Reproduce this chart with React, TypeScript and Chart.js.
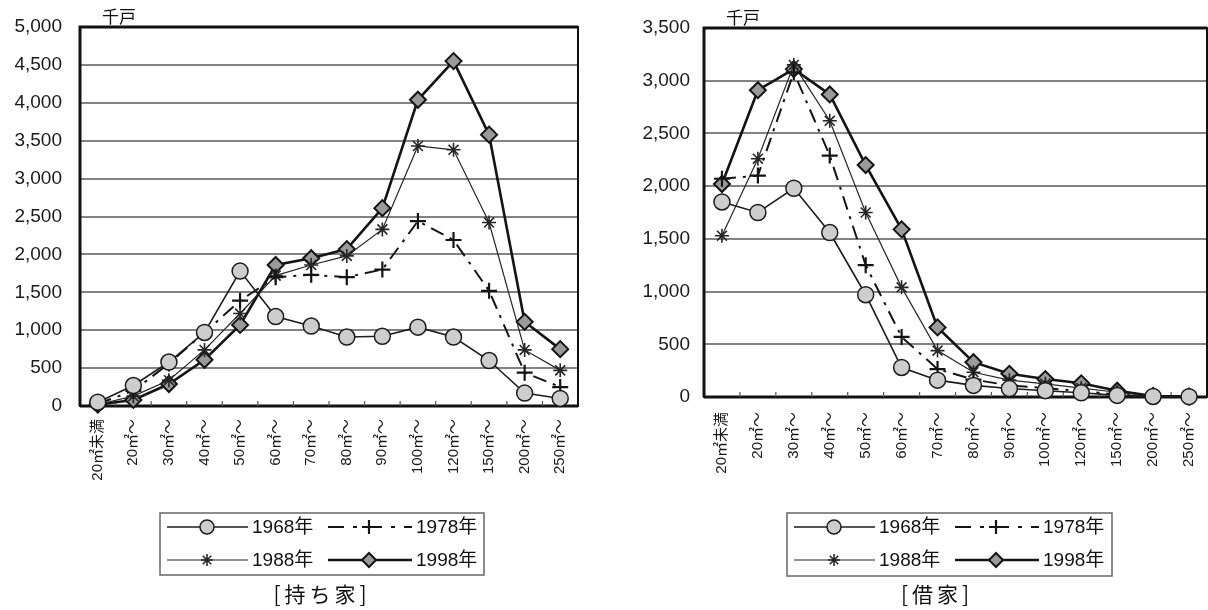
import { useEffect, useRef } from "react";
import { Chart, registerables } from "chart.js";
import { drawPoint } from "chart.js/helpers";

Chart.register(...registerables);

// Floor-area classes shown along the x axis
const sizeCategories = [
  "20㎡未満", "20㎡～", "30㎡～", "40㎡～", "50㎡～", "60㎡～", "70㎡～",
  "80㎡～", "90㎡～", "100㎡～", "120㎡～", "150㎡～", "200㎡～", "250㎡～",
];
const seriesYears = ["1968年", "1978年", "1988年", "1998年"];

// 持ち家 — owner-occupied dwellings, thousand households
const owned1968 = [50, 270, 580, 970, 1780, 1180, 1055, 910, 920, 1040, 910, 600, 170, 100];
const owned1978 = [30, 200, 560, 970, 1390, 1700, 1730, 1700, 1800, 2440, 2190, 1520, 440, 250];
const owned1988 = [20, 130, 340, 740, 1220, 1720, 1860, 1980, 2330, 3430, 3380, 2420, 740, 470];
const owned1998 = [20, 80, 290, 610, 1070, 1860, 1950, 2070, 2610, 4040, 4550, 3580, 1110, 750];

// 借家 — rented dwellings, thousand households
const rented1968 = [1850, 1750, 1980, 1560, 970, 280, 160, 110, 80, 60, 40, 15, 5, 3];
const rented1978 = [2070, 2100, 3080, 2290, 1250, 570, 265, 165, 110, 85, 55, 25, 5, 3];
const rented1988 = [1530, 2260, 3150, 2620, 1750, 1040, 440, 235, 160, 125, 85, 45, 6, 3];
const rented1998 = [2020, 2910, 3110, 2870, 2200, 1590, 660, 330, 220, 170, 130, 60, 10, 5];

const ownedMax = 5000;
const rentedMax = 3500;
const tickStep = 500;

const LATIN = '"Liberation Sans", "Noto Sans CJK JP", sans-serif';
const CJK = '"Noto Sans CJK JP", "Liberation Sans", sans-serif';

type Look = {
  lineColor: string;
  lineWidth: number;
  dash: number[];
  pointStyle: string;
  radius: number;
  fill: string;
  stroke: string;
  pointWidth: number;
};

const looks: Look[] = [
  { lineColor: "#1c1c1c", lineWidth: 1.6, dash: [], pointStyle: "circle", radius: 8, fill: "#cdcdcd", stroke: "#1c1c1c", pointWidth: 1.5 },
  { lineColor: "#141414", lineWidth: 2, dash: [14, 7, 3, 7], pointStyle: "cross", radius: 8, fill: "#141414", stroke: "#141414", pointWidth: 2.2 },
  { lineColor: "#262626", lineWidth: 1.2, dash: [], pointStyle: "star", radius: 7, fill: "#262626", stroke: "#262626", pointWidth: 1.6 },
  { lineColor: "#141414", lineWidth: 2.6, dash: [], pointStyle: "rectRot", radius: 8, fill: "#9a9a9a", stroke: "#141414", pointWidth: 2 },
];

type Panel = {
  caption: string;
  series: number[][];
  max: number;
  canvasLeft: number;
  canvasWidth: number;
  plotLeft: number;
  plotRight: number;
  plotTop: number;
  plotBottom: number;
  yPad: number;
  xPad: number;
  box: { x: number; y: number; w: number; h: number };
  captionX: number;
};

const CANVAS_H = 610;

const panels: Panel[] = [
  {
    caption: "[持ち家]",
    series: [owned1968, owned1978, owned1988, owned1998],
    max: ownedMax,
    canvasLeft: 0,
    canvasWidth: 600,
    plotLeft: 80,
    plotRight: 578,
    plotTop: 27,
    plotBottom: 406,
    yPad: 18,
    xPad: 13,
    box: { x: 160, y: 513, w: 324, h: 62 },
    captionX: 320,
  },
  {
    caption: "[借家]",
    series: [rented1968, rented1978, rented1988, rented1998],
    max: rentedMax,
    canvasLeft: 620,
    canvasWidth: 588,
    plotLeft: 84,
    plotRight: 587,
    plotTop: 28,
    plotBottom: 397,
    yPad: 14,
    xPad: 15,
    box: { x: 167, y: 513, w: 325, h: 63 },
    captionX: 315,
  },
];

function setLook(ctx: CanvasRenderingContext2D, look: Look) {
  ctx.fillStyle = look.fill;
  ctx.strokeStyle = look.stroke;
  ctx.lineWidth = look.pointWidth;
  ctx.setLineDash([]);
}

function framePlugin(panel: Panel) {
  return {
    id: "frameAndLegend",
    beforeDatasetsDraw(chart: any) {
      const { ctx, chartArea: a } = chart;
      const xs = chart.scales.x;
      ctx.save();
      // plot frame
      ctx.strokeStyle = "#111";
      ctx.lineWidth = 2;
      ctx.strokeRect(a.left, a.top, a.right - a.left, a.bottom - a.top);
      ctx.lineWidth = 3;
      ctx.beginPath();
      ctx.moveTo(a.left, a.bottom);
      ctx.lineTo(a.left, a.top);
      ctx.lineTo(a.right, a.top);
      ctx.moveTo(a.left, a.bottom);
      ctx.lineTo(a.right, a.bottom);
      ctx.stroke();
      // short inward tick marks between categories
      const step = xs.getPixelForValue(1) - xs.getPixelForValue(0);
      ctx.lineWidth = 1.2;
      ctx.strokeStyle = "#555";
      ctx.beginPath();
      for (let i = 1; i < sizeCategories.length; i++) {
        const x = xs.getPixelForValue(i) - step / 2;
        ctx.moveTo(x, a.bottom);
        ctx.lineTo(x, a.bottom - 5);
      }
      ctx.stroke();
      ctx.restore();
    },
    afterDraw(chart: any) {
      const { ctx, chartArea: a } = chart;
      ctx.save();
      // unit label
      ctx.fillStyle = "#111";
      ctx.font = `17px ${CJK}`;
      ctx.textBaseline = "middle";
      ctx.textAlign = "left";
      ctx.fillText("千戸", a.left + 22, a.top - 10);

      // legend box
      const b = panel.box;
      ctx.strokeStyle = "#666";
      ctx.lineWidth = 1.5;
      ctx.strokeRect(b.x, b.y, b.w, b.h);
      const cols = [
        { lineFrom: 7, lineTo: 88, mark: 47, text: 92 },
        { lineFrom: 168, lineTo: 252, mark: 209, text: 256 },
      ];
      const rows = [14, 47];
      seriesYears.forEach((name, i) => {
        const c = cols[i % 2];
        const y = b.y + rows[Math.floor(i / 2)];
        const look = looks[i];
        ctx.strokeStyle = look.lineColor;
        ctx.lineWidth = look.lineWidth;
        ctx.setLineDash(look.dash.length ? [16, 9, 4, 9] : []);
        ctx.beginPath();
        ctx.moveTo(b.x + c.lineFrom, y);
        ctx.lineTo(b.x + c.lineTo, y);
        ctx.stroke();
        setLook(ctx, look);
        drawPoint(ctx, { pointStyle: look.pointStyle, radius: look.radius - 1, rotation: 0, borderWidth: look.pointWidth } as any, b.x + c.mark, y);
        ctx.fillStyle = "#111";
        ctx.font = `19px ${LATIN}`;
        ctx.textAlign = "left";
        ctx.textBaseline = "middle";
        ctx.fillText(name, b.x + c.text, y + 1);
      });

      // caption
      ctx.fillStyle = "#111";
      ctx.font = `21px ${CJK}`;
      (ctx as any).letterSpacing = "4px";
      ctx.textAlign = "center";
      ctx.textBaseline = "middle";
      ctx.fillText(panel.caption, panel.captionX + 2, 594);
      ctx.restore();
    },
  };
}

function makeConfig(panel: Panel): any {
  return {
    type: "line",
    data: {
      labels: sizeCategories,
      datasets: panel.series.map((vals, i) => {
        const look = looks[i];
        return {
          label: seriesYears[i],
          data: vals,
          borderColor: look.lineColor,
          borderWidth: look.lineWidth,
          borderDash: look.dash,
          pointStyle: look.pointStyle,
          pointRadius: look.radius,
          pointBackgroundColor: look.fill,
          pointBorderColor: look.stroke,
          pointBorderWidth: look.pointWidth,
          tension: 0,
          fill: false,
          clip: false,
        };
      }),
    },
    options: {
      animation: false,
      responsive: false,
      maintainAspectRatio: false,
      layout: {
        autoPadding: false,
        padding: { top: panel.plotTop, right: panel.canvasWidth - panel.plotRight, left: 0, bottom: 0 },
      },
      plugins: { legend: { display: false }, tooltip: { enabled: false } },
      scales: {
        x: {
          type: "category",
          offset: true,
          // invisible tick marks push the labels down without widening the layout padding
          grid: {
            display: true,
            drawOnChartArea: false,
            drawTicks: true,
            tickLength: panel.xPad,
            color: "rgba(0,0,0,0)",
          },
          border: { display: false },
          ticks: {
            autoSkip: false,
            minRotation: 90,
            maxRotation: 90,
            padding: 0,
            color: "#1a1a1a",
            font: { family: LATIN, size: 15 },
          },
          afterFit: (s: any) => {
            s.height = CANVAS_H - panel.plotBottom;
            s.paddingLeft = 0;
            s.paddingRight = 0;
          },
        },
        y: {
          min: 0,
          max: panel.max,
          ticks: {
            stepSize: tickStep,
            padding: panel.yPad,
            color: "#1a1a1a",
            font: { family: LATIN, size: 19 },
            callback: (v: any) => Number(v).toLocaleString("en-US"),
          },
          grid: { color: "#828282", lineWidth: 2, drawTicks: false },
          border: { display: false },
          afterFit: (s: any) => {
            s.width = panel.plotLeft;
            s.paddingTop = 0;
            s.paddingBottom = 0;
          },
        },
      },
    },
    plugins: [framePlugin(panel)],
  };
}

function PanelChart({ panel }: { panel: Panel }) {
  const ref = useRef<HTMLCanvasElement | null>(null);
  useEffect(() => {
    if (!ref.current) return;
    const chart = new Chart(ref.current, makeConfig(panel));
    return () => chart.destroy();
  }, [panel]);
  return (
    <canvas
      ref={ref}
      width={panel.canvasWidth}
      height={CANVAS_H}
      style={{
        position: "absolute",
        left: panel.canvasLeft,
        top: 0,
        width: panel.canvasWidth,
        height: CANVAS_H,
      }}
    />
  );
}

export default function App() {
  return (
    <div
      style={{
        position: "fixed",
        left: 0,
        top: 0,
        width: 1208,
        height: 610,
        background: "#fff",
        overflow: "hidden",
      }}
    >
      {panels.map((p) => (
        <PanelChart key={p.caption} panel={p} />
      ))}
    </div>
  );
}
